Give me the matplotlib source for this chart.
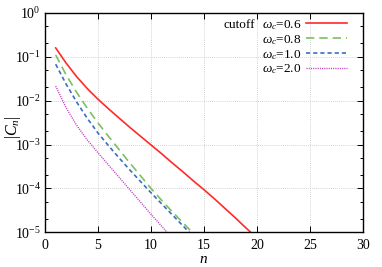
import numpy as np
import matplotlib
matplotlib.use("Agg")
import matplotlib.pyplot as plt
from matplotlib.ticker import LogLocator, FixedLocator, FuncFormatter

plt.rcParams['font.family'] = ['Liberation Serif', 'DejaVu Serif']
plt.rcParams['mathtext.fontset'] = 'custom'
plt.rcParams['mathtext.rm'] = 'Liberation Serif'
plt.rcParams['mathtext.it'] = 'Liberation Serif:italic'
plt.rcParams['mathtext.bf'] = 'Liberation Serif:bold'

# data (log10 |C_n|)
n_red = [1, 2, 3, 4, 5, 6, 7, 8, 9, 10, 11, 12, 13, 14, 15, 16, 17, 18, 19, 20, 21]
log_red = [-0.80, -1.15, -1.46, -1.73, -1.97, -2.19, -2.40, -2.61, -2.81, -3.01,
           -3.21, -3.42, -3.62, -3.83, -4.03, -4.24, -4.46, -4.68, -4.91, -5.13, -5.35]
n_green = [1, 2, 3, 4, 5, 6, 7, 8, 9, 10, 11, 12, 13, 14, 15]
log_green = [-0.96, -1.42, -1.82, -2.18, -2.51, -2.82, -3.12, -3.42, -3.71, -4.00,
             -4.27, -4.53, -4.78, -5.03, -5.28]
n_blue = [1, 2, 3, 4, 5, 6, 7, 8, 9, 10, 11, 12, 13, 14, 15]
log_blue = [-1.17, -1.63, -2.04, -2.41, -2.74, -3.03, -3.31, -3.58, -3.84, -4.10,
            -4.35, -4.60, -4.85, -5.10, -5.35]
n_mag = [1, 2, 3, 4, 5, 6, 7, 8, 9, 10, 11, 12, 13]
log_mag = [-1.67, -2.17, -2.57, -2.90, -3.19, -3.47, -3.75, -4.03, -4.31, -4.59,
           -4.86, -5.13, -5.40]
labels = [r'$\omega_c$=0.6', r'$\omega_c$=0.8', r'$\omega_c$=1.0', r'$\omega_c$=2.0']
xticks = [0, 5, 10, 15, 20, 25, 30]

fig = plt.figure(figsize=(3.82, 2.67), dpi=100)
ax = fig.add_axes([0.118, 0.130, 0.832, 0.822])

ax.plot(n_red, 10 ** np.array(log_red), color='#ff2a2a', lw=1.2, label=labels[0])
ax.plot(n_green, 10 ** np.array(log_green), color='#7cc060', lw=1.2,
        dashes=(5, 3), label=labels[1])
ax.plot(n_blue, 10 ** np.array(log_blue), color='#3a6fc0', lw=1.2,
        dashes=(2.5, 1.8), label=labels[2])
ax.plot(n_mag, 10 ** np.array(log_mag), color='#c040c0', lw=1.0,
        dashes=(0.8, 0.8), label=labels[3])

ax.set_yscale('log')
ax.set_xlim(0, 30)
ax.set_ylim(1e-5, 1)
ax.xaxis.set_major_locator(FixedLocator(xticks))
ax.xaxis.set_major_formatter(FuncFormatter(lambda v, p: '%d' % v))
ax.yaxis.set_major_locator(LogLocator(base=10, numticks=10))
ax.yaxis.set_minor_locator(LogLocator(base=10, subs=(2, 5), numticks=10))
ax.yaxis.set_minor_formatter(plt.NullFormatter())
ax.yaxis.set_major_formatter(FuncFormatter(
    lambda v, p: r'$10^{%d}$' % int(round(np.log10(v)))))
ax.tick_params(which='both', direction='in', top=True, right=True, labelsize=10)
ax.tick_params(which='major', length=4, width=0.7)
ax.tick_params(which='minor', length=2.5, width=0.7)
ax.tick_params(axis='x', pad=5)
ax.tick_params(axis='y', pad=3)
ax.grid(True, which='major', color='#c4c4c4', lw=0.6, dashes=(1, 1.5))
for s in ax.spines.values():
    s.set_linewidth(1.0)

ax.set_xlabel(r'$n$', fontsize=11)
ax.set_ylabel(r'$|C_n|$', fontsize=11.5)
ax.xaxis.set_label_coords(0.5, -0.095)
ax.yaxis.set_label_coords(-0.068, 0.48)

leg = ax.legend(loc='upper right', bbox_to_anchor=(0.975, 1.012), frameon=False,
                markerfirst=False, fontsize=9.5, handlelength=3.1,
                handletextpad=0.35, labelspacing=0.08, borderaxespad=0.2)
for t in leg.get_texts():
    t.set_ha('right')
fig.canvas.draw()
t0 = leg.get_texts()[0]
bb = t0.get_window_extent()
inv = fig.transFigure.inverted()
x0, y0 = inv.transform((bb.x0, (bb.y0 + bb.y1) / 2))
fig.text(x0 - 0.018, y0, 'cutoff', ha='right', va='center', fontsize=9.5)

fig.savefig('out.png', dpi=100)
